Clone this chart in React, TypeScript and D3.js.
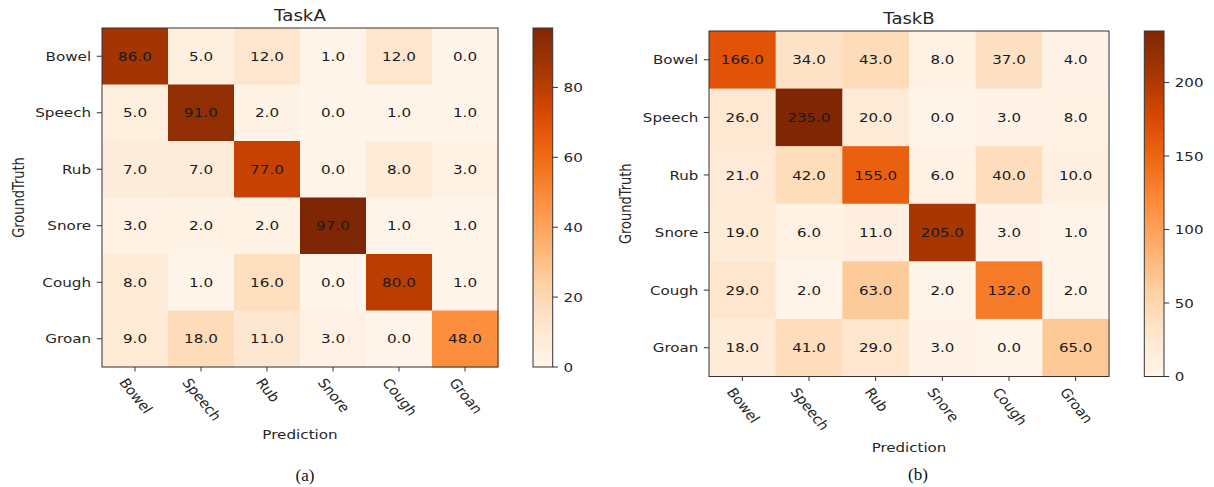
import React from "react";
import * as d3 from "d3";

const categories = ["Bowel", "Speech", "Rub", "Snore", "Cough", "Groan"];

const taskAValues = [
  [86, 5, 12, 1, 12, 0],
  [5, 91, 2, 0, 1, 1],
  [7, 7, 77, 0, 8, 3],
  [3, 2, 2, 97, 1, 1],
  [8, 1, 16, 0, 80, 1],
  [9, 18, 11, 3, 0, 48],
];

const taskBValues = [
  [166, 34, 43, 8, 37, 4],
  [26, 235, 20, 0, 3, 8],
  [21, 42, 155, 6, 40, 10],
  [19, 6, 11, 205, 3, 1],
  [29, 2, 63, 2, 132, 2],
  [18, 41, 29, 3, 0, 65],
];

const taskATicks = [0, 20, 40, 60, 80];
const taskBTicks = [0, 50, 100, 150, 200];

const orangesStops = [
  "#fff5eb", "#fee6ce", "#fdd0a2", "#fdae6b", "#fd8d3c",
  "#f16913", "#d94801", "#a63603", "#7f2704",
];

const FONT = "'DejaVu Sans', sans-serif";
const TXT = "#262626";
const FS = 13;
const ROT = 55;

let ctx: CanvasRenderingContext2D | null = null;
function measure(text: string, size: number) {
  if (!ctx) {
    const c = document.createElement("canvas");
    ctx = c.getContext("2d");
  }
  if (!ctx) return text.length * size * 0.6;
  ctx.font = `${size}px "DejaVu Sans"`;
  return ctx.measureText(text).width;
}

type PanelProps = {
  id: string;
  title: string;
  caption: string;
  values: number[][];
  ticks: number[];
  x0: number; x1: number; y0: number; y1: number;
  cb0: number; cb1: number;
  titleY: number; ylabelX: number; xlabelY: number;
  capX: number; capY: number;
};

function Panel(p: PanelProps) {
  const flat = p.values.flat();
  const vmin = d3.min(flat) as number;
  const vmax = d3.max(flat) as number;
  const cmap = d3
    .scaleLinear<string>()
    .domain(orangesStops.map((_, i) => i / (orangesStops.length - 1)))
    .range(orangesStops)
    .interpolate(d3.interpolateRgb);
  const norm = d3.scaleLinear().domain([vmin, vmax]).range([0, 1]);
  const color = (v: number) => cmap(norm(v));

  const xs = d3.scaleBand<string>().domain(categories).range([p.x0, p.x1]);
  const ys = d3.scaleBand<string>().domain(categories).range([p.y0, p.y1]);
  const cbScale = d3.scaleLinear().domain([vmin, vmax]).range([p.y1, p.y0]);
  const gradId = `grad-${p.id}`;
  // horizontal stretch of the figure (cells are wider than tall)
  const k = (p.x1 - p.x0) / (p.y1 - p.y0);
  const tickLenV = 4.5;
  const tickLenH = 4.5 * k;
  const padH = 4.8 * k;
  const labelTop = p.y1 + 10;
  const rad = (ROT * Math.PI) / 180;

  const T = (x: number, y: number, extra = "") =>
    `translate(${x},${y}) scale(${k},1)${extra ? " " + extra : ""}`;

  return (
    <g>
      <defs>
        <linearGradient id={gradId} x1="0" y1="1" x2="0" y2="0">
          {d3.range(0, 1.0001, 0.05).map((t) => (
            <stop key={t} offset={`${t * 100}%`} stopColor={cmap(t)} />
          ))}
        </linearGradient>
      </defs>
      <text
        transform={T((p.x0 + p.x1) / 2, p.titleY)}
        textAnchor="middle"
        fontFamily={FONT}
        fontSize={15.6}
        fill={TXT}
      >
        {p.title}
      </text>
      {p.values.map((row, ri) =>
        row.map((v, ci) => (
          <rect
            key={`${ri}-${ci}`}
            x={xs(categories[ci])}
            y={ys(categories[ri])}
            width={xs.bandwidth() + 0.5}
            height={ys.bandwidth() + 0.5}
            fill={color(v)}
          />
        ))
      )}
      {p.values.map((row, ri) =>
        row.map((v, ci) => (
          <text
            key={`t${ri}-${ci}`}
            transform={T(
              (xs(categories[ci]) as number) + xs.bandwidth() / 2,
              (ys(categories[ri]) as number) + ys.bandwidth() / 2
            )}
            textAnchor="middle"
            dominantBaseline="central"
            fontFamily={FONT}
            fontSize={FS}
            fill="#1a1a1a"
          >
            {v.toFixed(1)}
          </text>
        ))
      )}
      <rect
        x={p.x0}
        y={p.y0}
        width={p.x1 - p.x0}
        height={p.y1 - p.y0}
        fill="none"
        stroke="#333"
        strokeWidth={1}
      />
      {categories.map((c) => {
        const cy = (ys(c) as number) + ys.bandwidth() / 2;
        return (
          <g key={`y${c}`}>
            <line x1={p.x0 - tickLenH} x2={p.x0} y1={cy} y2={cy} stroke="#333" />
            <text
              transform={T(p.x0 - tickLenH - padH, cy)}
              textAnchor="end"
              dominantBaseline="central"
              fontFamily={FONT}
              fontSize={FS}
              fill={TXT}
            >
              {c}
            </text>
          </g>
        );
      })}
      {categories.map((c) => {
        const cx = (xs(c) as number) + xs.bandwidth() / 2;
        const L = measure(c, FS);
        const h = 10;
        const half = (L * Math.sin(rad) + h * Math.cos(rad)) / 2;
        return (
          <g key={`x${c}`}>
            <line x1={cx} x2={cx} y1={p.y1} y2={p.y1 + tickLenV} stroke="#333" />
            <text
              transform={T(cx + 1, labelTop + half, `rotate(${ROT})`)}
              textAnchor="middle"
              dominantBaseline="central"
              fontFamily={FONT}
              fontSize={FS}
              fill={TXT}
            >
              {c}
            </text>
          </g>
        );
      })}
      <text
        transform={T((p.x0 + p.x1) / 2, p.xlabelY)}
        textAnchor="middle"
        dominantBaseline="central"
        fontFamily={FONT}
        fontSize={FS}
        fill={TXT}
      >
        Prediction
      </text>
      <text
        transform={T(p.ylabelX, (p.y0 + p.y1) / 2, "rotate(-90)")}
        textAnchor="middle"
        dominantBaseline="central"
        fontFamily={FONT}
        fontSize={FS}
        fill={TXT}
      >
        GroundTruth
      </text>
      <rect
        x={p.cb0}
        y={p.y0}
        width={p.cb1 - p.cb0}
        height={p.y1 - p.y0}
        fill={`url(#${gradId})`}
        stroke="#333"
        strokeWidth={1}
      />
      {p.ticks.map((t) => {
        const ty = cbScale(t);
        return (
          <g key={`cb${t}`}>
            <line x1={p.cb1} x2={p.cb1 + tickLenH} y1={ty} y2={ty} stroke="#333" />
            <text
              transform={T(p.cb1 + tickLenH + padH, ty)}
              dominantBaseline="central"
              fontFamily={FONT}
              fontSize={FS}
              fill={TXT}
            >
              {t}
            </text>
          </g>
        );
      })}
      <text
        x={p.capX}
        y={p.capY}
        textAnchor="middle"
        dominantBaseline="central"
        fontFamily="'Liberation Serif', 'Times New Roman', serif"
        fontSize={17}
        fill="#111"
      >
        {p.caption}
      </text>
    </g>
  );
}

export default function App() {
  return (
    <svg
      width={1214}
      height={487}
      style={{ position: "absolute", left: 0, top: 0, background: "#fff" }}
    >
      <rect x={0} y={0} width={1214} height={487} fill="#fff" />
      <Panel
        id="a"
        title="TaskA"
        caption="(a)"
        values={taskAValues}
        ticks={taskATicks}
        x0={102} x1={498} y0={28} y1={367}
        cb0={533} cb1={552.7}
        titleY={20.7} ylabelX={19} xlabelY={434.5}
        capX={305} capY={475}
      />
      <Panel
        id="b"
        title="TaskB"
        caption="(b)"
        values={taskBValues}
        ticks={taskBTicks}
        x0={709} x1={1109} y0={31} y1={376.5}
        cb0={1144.3} cb1={1164}
        titleY={23.7} ylabelX={626} xlabelY={447}
        capX={918} capY={474}
      />
    </svg>
  );
}
